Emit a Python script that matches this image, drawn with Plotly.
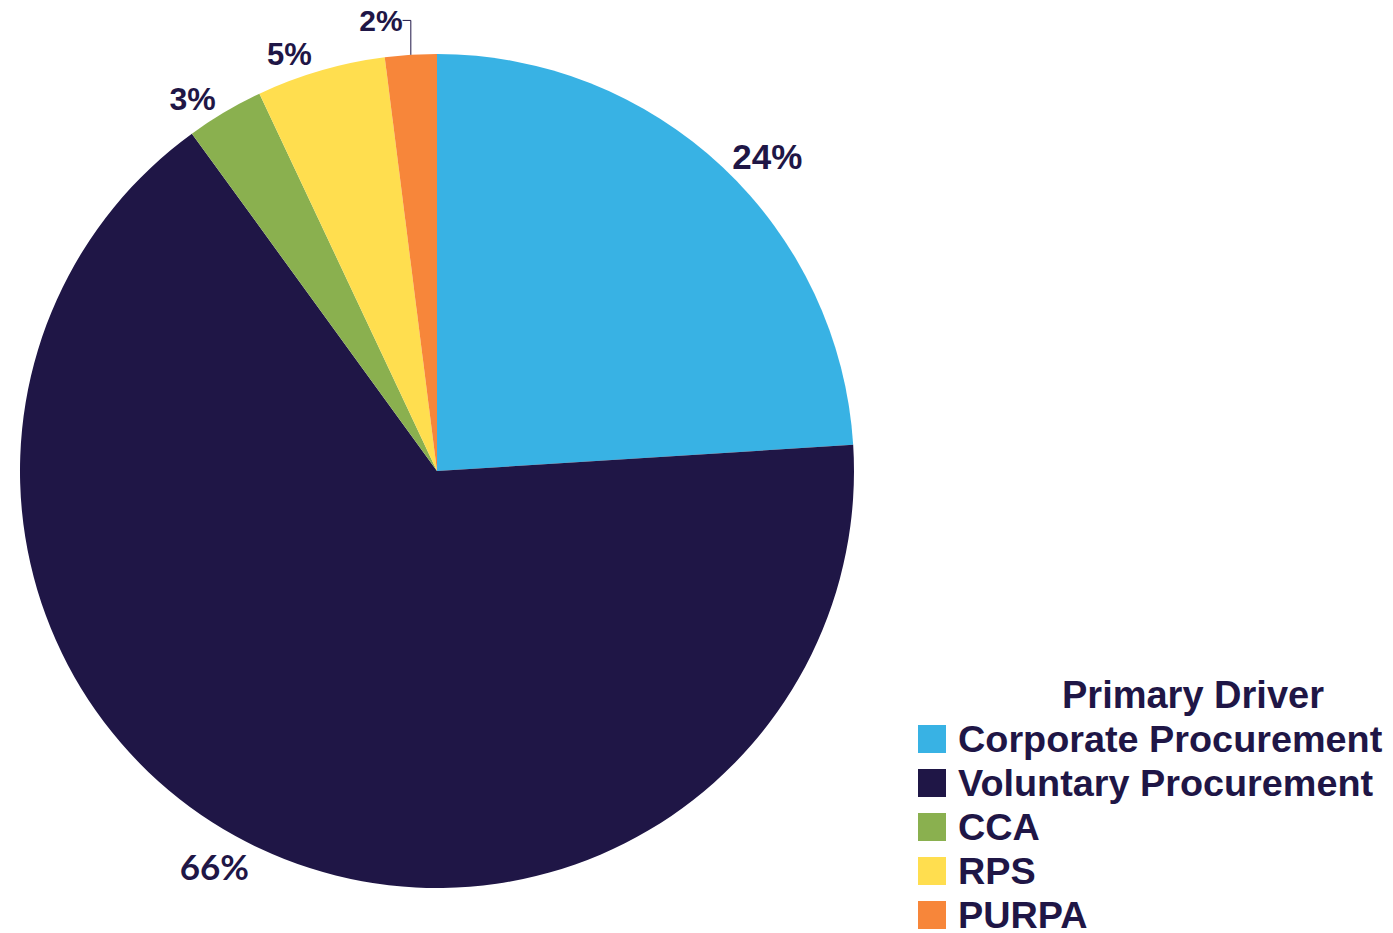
import plotly.graph_objects as go

labels = ["Corporate Procurement", "Voluntary Procurement", "CCA", "RPS", "PURPA"]
values = [24, 66, 3, 5, 2]
colors = ["#38B2E4", "#1F1646", "#8AB04F", "#FFDE4F", "#F7863A"]
legend_title = "Primary Driver"

W, H = 1393, 933
navy = "#1F1646"

fig = go.Figure()
fig.add_trace(go.Pie(
    labels=labels,
    values=values,
    sort=False,
    direction="clockwise",
    rotation=0,
    automargin=False,
    marker=dict(colors=colors, line=dict(width=0)),
    textinfo="percent",
    textposition="outside",
    textfont=dict(
        family=["Liberation Sans", "Lato", "Liberation Sans", "Liberation Sans", "Liberation Sans"],
        size=[35, 35, 32, 31, 30],
        color=navy,
        weight=["bold", "bold", "bold", "bold", "bold"],
    ),
    domain=dict(x=[20 / W, 854 / W], y=[45 / H, 879 / H]),
    showlegend=False,
    hoverinfo="label+percent",
))

# custom legend (large swatches)
shapes = []
annotations = [dict(
    x=1193 / W, y=1 - 695 / H, xref="paper", yref="paper",
    text=legend_title, showarrow=False, xanchor="center", yanchor="middle",
    font=dict(family="Liberation Sans", size=38, color=navy, weight="bold"),
)]
for i, (lab, col) in enumerate(zip(labels, colors)):
    yc = 739 + 44 * i
    shapes.append(dict(
        type="rect", xref="paper", yref="paper",
        x0=918 / W, x1=946 / W, y0=1 - (yc - 14) / H, y1=1 - (yc + 14) / H,
        fillcolor=col, line=dict(width=0),
    ))
    annotations.append(dict(
        x=956 / W, y=1 - yc / H, xref="paper", yref="paper",
        text=lab, showarrow=False, xanchor="left", yanchor="middle",
        font=dict(family="Liberation Sans", size=37.8, color=navy, weight="bold"),
    ))

fig.update_layout(
    width=W, height=H,
    margin=dict(l=0, r=0, t=0, b=0, autoexpand=False),
    paper_bgcolor="white",
    plot_bgcolor="white",
    shapes=shapes,
    annotations=annotations,
)

fig.write_html(
    "out.html",
    config={"displayModeBar": False},
    post_script="document.body.style.margin='0';document.body.style.overflow='hidden';",
)
